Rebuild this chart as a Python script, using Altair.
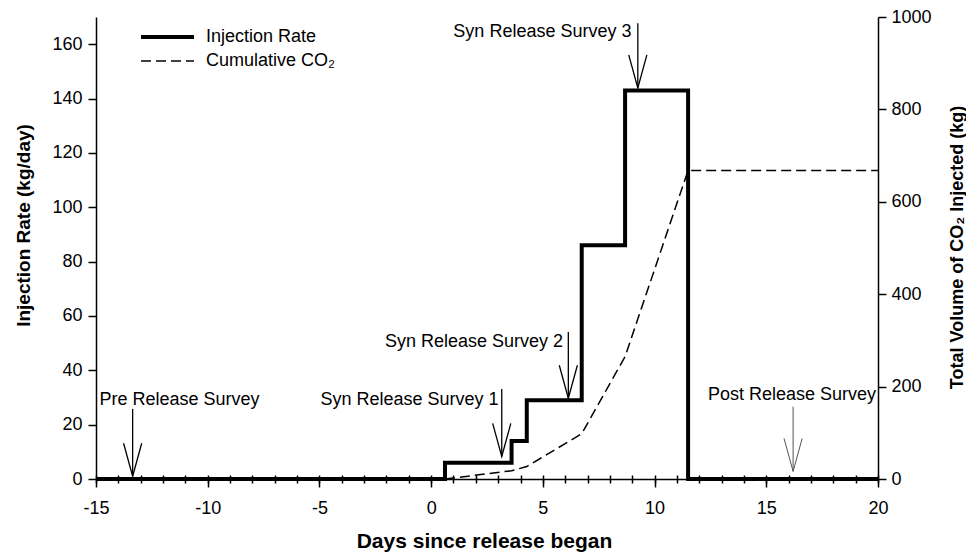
import altair as alt
import pandas as pd

# step points of the injection rate (kg/day); value holds until the next day
rate_day = [-15, 0.62, 3.6, 4.28, 6.74, 8.68, 11.5, 20]
rate_val = [0, 6, 14, 29, 86, 143, 0, 0]

# cumulative CO2 injected (kg)
cum_day = [0.62, 3.6, 4.28, 6.74, 8.68, 11.5, 20]
cum_val = [0, 18, 27, 98, 265, 668, 668]

# survey annotations
survey = ["Pre Release Survey", "Syn Release Survey 1", "Syn Release Survey 2",
          "Syn Release Survey 3", "Post Release Survey"]
arrow_day = [-13.36, 3.16, 6.14, 9.25, 16.2]
arrow_top = [25.8, 33.1, 54.1, 167.7, 26.6]
arrow_tip = [1.0, 8.3, 29.7, 143.9, 2.8]
label_day = [-11.26, -0.97, 1.92, 4.98, 16.15]
label_val = [29.1, 29.1, 50.5, 164.3, 30.9]

series = ["Injection Rate", "Cumulative CO\u2082"]

rate = pd.DataFrame({"day": rate_day, "val": rate_val, "series": series[0]})
cum = pd.DataFrame({"day": cum_day, "val": cum_val, "series": series[1]})
ann = pd.DataFrame({"survey": survey, "aday": arrow_day, "atop": arrow_top,
                    "atip": arrow_tip, "lday": label_day, "lval": label_val})

FONT = "Liberation Sans"

x_scale = alt.Scale(domain=[-15, 20], nice=False, zero=False)
y_scale = alt.Scale(domain=[0, 170], nice=False)
x_axis = alt.Axis(title="Days since release began", values=list(range(-15, 21, 5)),
                  labelExpr="'' + datum.value", labelFlush=False,
                  tickSize=8, labelPadding=12, titleX=388, titleY=68,
                  titleBaseline="alphabetic", titleFontSize=21)
y_axis = alt.Axis(title="Injection Rate (kg/day)", values=list(range(0, 161, 20)),
                  tickSize=8, labelPadding=6, titleX=-73, titleY=208,
                  titleBaseline="middle", titleAlign="center", titleAngle=270,
                  titleFontSize=19)

dash = alt.StrokeDash("series:N",
                      scale=alt.Scale(domain=series, range=[[1, 0], [10, 5]]),
                      legend=alt.Legend(title=None))
width = alt.StrokeWidth("series:N",
                        scale=alt.Scale(domain=series, range=[4, 1.5]),
                        legend=alt.Legend(title=None))

inj = alt.Chart(rate).mark_line(interpolate="step-after", color="black",
                                strokeJoin="miter").encode(
    x=alt.X("day:Q", scale=x_scale, axis=x_axis),
    y=alt.Y("val:Q", scale=y_scale, axis=y_axis),
    strokeDash=dash,
    strokeWidth=width,
)

ann_base = alt.Chart(ann)

shaft = ann_base.mark_rule(color="black", strokeWidth=1.3).encode(
    x=alt.X("aday:Q", scale=x_scale, axis=x_axis),
    y=alt.Y("atop:Q", scale=y_scale, axis=y_axis),
    y2="atip:Q",
).transform_filter("datum.survey != 'Post Release Survey'")

head = ann_base.mark_point(shape="M-0.55,-2L0,0L0.55,-2", filled=False, size=1089,
                           color="black", strokeWidth=1.3, opacity=1).encode(
    x=alt.X("aday:Q", scale=x_scale, axis=x_axis),
    y=alt.Y("atip:Q", scale=y_scale, axis=y_axis),
).transform_filter("datum.survey != 'Post Release Survey'")

post_shaft = ann_base.mark_rule(color="#555555", strokeWidth=1).encode(
    x=alt.X("aday:Q", scale=x_scale, axis=x_axis),
    y=alt.Y("atop:Q", scale=y_scale, axis=y_axis),
    y2="atip:Q",
).transform_filter("datum.survey == 'Post Release Survey'")

post_head = ann_base.mark_point(shape="M-0.55,-2L0,0L0.55,-2", filled=False, size=1089,
                                color="#555555", strokeWidth=1, opacity=1).encode(
    x=alt.X("aday:Q", scale=x_scale, axis=x_axis),
    y=alt.Y("atip:Q", scale=y_scale, axis=y_axis),
).transform_filter("datum.survey == 'Post Release Survey'")

labels = ann_base.mark_text(fontSize=18, font=FONT, color="black",
                            align="center", baseline="middle").encode(
    x=alt.X("lday:Q", scale=x_scale, axis=x_axis),
    y=alt.Y("lval:Q", scale=y_scale, axis=y_axis),
    text="survey:N",
)

left = alt.layer(inj, shaft, head, post_shaft, post_head, labels)

cumline = alt.Chart(cum).mark_line(color="black").encode(
    x=alt.X("day:Q", scale=x_scale,
            axis=alt.Axis(title=None, orient="bottom", values=list(range(-15, 21)),
                          labels=False, domain=False, tickSize=8, offset=-4)),
    y=alt.Y("val:Q", scale=alt.Scale(domain=[0, 1000], nice=False),
            axis=alt.Axis(title="Total Volume of CO\u2082 Injected (kg)", orient="right",
                          values=list(range(0, 1001, 200)), format="d",
                          tickSize=8, labelPadding=5,
                          titleX=79, titleY=230, titleAngle=270, titleAlign="center",
                          titleBaseline="middle", titleFontSize=18)),
    strokeDash=dash,
    strokeWidth=width,
)

chart = alt.layer(left, cumline).resolve_scale(
    y="independent"
).resolve_axis(
    x="independent", y="independent"
).properties(
    width=782, height=462,
    autosize=alt.AutoSizeParams(type="none"),
    padding={"left": 88, "top": 9, "right": 88, "bottom": 73},
).configure(
    font=FONT,
).configure_view(
    stroke=None,
).configure_axis(
    grid=False, domainColor="black", domainWidth=1.5, tickColor="black", tickWidth=1.5,
    labelColor="black", labelFontSize=18, labelFont=FONT, titleColor="black",
    titleFont=FONT, titleFontWeight="bold",
).configure_legend(
    orient="none", legendX=43, legendY=10, symbolType="stroke", symbolSize=2809,
    symbolStrokeColor="black", labelFontSize=18, labelFont=FONT, labelColor="black",
    labelOffset=10, padding=0, symbolOffset=0, rowPadding=4, clipHeight=20,
)

chart.save("out.html", embed_options={"renderer": "svg", "actions": False})
